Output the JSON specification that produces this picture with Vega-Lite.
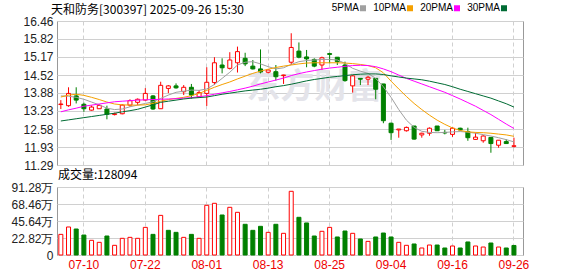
{
  "$schema": "https://vega.github.io/schema/vega-lite/v6.json",
  "background": "white",
  "padding": {"left": 10, "top": 3, "right": 0, "bottom": 0},
  "bounds": "flush",
  "spacing": 22,
  "config": {
    "view": {"stroke": "#999999", "strokeWidth": 1},
    "axis": {"labelFont": "Liberation Sans", "labelFontSize": 12, "labelColor": "#222222", "ticks": false, "domain": false, "gridColor": "#d0d0d0", "title": null, "labelPadding": 4, "labelOverlap": false, "labelFlush": false}
  },
  "datasets": {
    "k": [
      {"date": "2025-07-07", "open": 13.46, "high": 13.62, "low": 13.30, "close": 13.48, "vol": 27.7, "5PMA": 13.77, "10PMA": 13.73, "20PMA": 13.20, "30PMA": 12.87},
      {"date": "2025-07-08", "open": 13.42, "high": 14.08, "low": 13.38, "close": 13.86, "vol": 37.6, "5PMA": 13.76, "10PMA": 13.80, "20PMA": 13.27, "30PMA": 12.91},
      {"date": "2025-07-09", "open": 13.77, "high": 14.08, "low": 13.50, "close": 13.62, "vol": 34.9, "5PMA": 13.72, "10PMA": 13.83, "20PMA": 13.33, "30PMA": 12.95},
      {"date": "2025-07-10", "open": 13.47, "high": 13.53, "low": 13.20, "close": 13.31, "vol": 26.8, "5PMA": 13.65, "10PMA": 13.79, "20PMA": 13.40, "30PMA": 12.99},
      {"date": "2025-07-11", "open": 13.26, "high": 13.43, "low": 13.24, "close": 13.37, "vol": 19.7, "5PMA": 13.55, "10PMA": 13.72, "20PMA": 13.44, "30PMA": 13.03},
      {"date": "2025-07-14", "open": 13.31, "high": 13.47, "low": 13.31, "close": 13.43, "vol": 17.0, "5PMA": 13.45, "10PMA": 13.64, "20PMA": 13.48, "30PMA": 13.07},
      {"date": "2025-07-15", "open": 13.30, "high": 13.42, "low": 12.93, "close": 13.11, "vol": 25.5, "5PMA": 13.33, "10PMA": 13.55, "20PMA": 13.52, "30PMA": 13.11},
      {"date": "2025-07-16", "open": 13.10, "high": 13.17, "low": 13.07, "close": 13.13, "vol": 13.0, "5PMA": 13.28, "10PMA": 13.48, "20PMA": 13.56, "30PMA": 13.15},
      {"date": "2025-07-17", "open": 13.13, "high": 13.47, "low": 13.11, "close": 13.44, "vol": 22.4, "5PMA": 13.30, "10PMA": 13.45, "20PMA": 13.58, "30PMA": 13.20},
      {"date": "2025-07-18", "open": 13.44, "high": 13.65, "low": 13.38, "close": 13.60, "vol": 23.7, "5PMA": 13.38, "10PMA": 13.44, "20PMA": 13.60, "30PMA": 13.24},
      {"date": "2025-07-21", "open": 13.54, "high": 13.68, "low": 13.44, "close": 13.65, "vol": 22.4, "5PMA": 13.44, "10PMA": 13.44, "20PMA": 13.62, "30PMA": 13.29},
      {"date": "2025-07-22", "open": 13.62, "high": 14.05, "low": 13.60, "close": 13.86, "vol": 37.1, "5PMA": 13.50, "10PMA": 13.45, "20PMA": 13.63, "30PMA": 13.37},
      {"date": "2025-07-23", "open": 13.77, "high": 13.80, "low": 13.27, "close": 13.30, "vol": 27.7, "5PMA": 13.56, "10PMA": 13.50, "20PMA": 13.64, "30PMA": 13.45},
      {"date": "2025-07-24", "open": 13.31, "high": 14.28, "low": 13.31, "close": 14.15, "vol": 53.2, "5PMA": 13.68, "10PMA": 13.58, "20PMA": 13.65, "30PMA": 13.54},
      {"date": "2025-07-25", "open": 14.04, "high": 14.16, "low": 13.87, "close": 14.13, "vol": 33.1, "5PMA": 13.80, "10PMA": 13.64, "20PMA": 13.66, "30PMA": 13.58},
      {"date": "2025-07-28", "open": 14.13, "high": 14.22, "low": 14.03, "close": 14.06, "vol": 30.4, "5PMA": 13.90, "10PMA": 13.68, "20PMA": 13.67, "30PMA": 13.62},
      {"date": "2025-07-29", "open": 13.92, "high": 14.16, "low": 13.80, "close": 14.08, "vol": 23.7, "5PMA": 13.94, "10PMA": 13.72, "20PMA": 13.69, "30PMA": 13.66},
      {"date": "2025-07-30", "open": 14.08, "high": 14.20, "low": 13.67, "close": 13.80, "vol": 27.7, "5PMA": 13.98, "10PMA": 13.78, "20PMA": 13.71, "30PMA": 13.69},
      {"date": "2025-07-31", "open": 13.74, "high": 13.98, "low": 13.72, "close": 13.89, "vol": 22.4, "5PMA": 13.97, "10PMA": 13.86, "20PMA": 13.74, "30PMA": 13.71},
      {"date": "2025-08-01", "open": 13.86, "high": 14.80, "low": 13.41, "close": 14.26, "vol": 66.7, "5PMA": 14.02, "10PMA": 13.97, "20PMA": 13.78, "30PMA": 13.73},
      {"date": "2025-08-04", "open": 14.25, "high": 15.16, "low": 14.16, "close": 14.96, "vol": 69.4, "5PMA": 14.18, "10PMA": 14.08, "20PMA": 13.83, "30PMA": 13.78},
      {"date": "2025-08-05", "open": 14.88, "high": 15.12, "low": 14.58, "close": 14.78, "vol": 53.7, "5PMA": 14.40, "10PMA": 14.18, "20PMA": 13.88, "30PMA": 13.83},
      {"date": "2025-08-06", "open": 14.76, "high": 15.34, "low": 14.72, "close": 15.06, "vol": 64.0, "5PMA": 14.62, "10PMA": 14.27, "20PMA": 13.93, "30PMA": 13.87},
      {"date": "2025-08-07", "open": 14.96, "high": 15.54, "low": 14.61, "close": 15.36, "vol": 57.3, "5PMA": 14.88, "10PMA": 14.38, "20PMA": 13.99, "30PMA": 13.91},
      {"date": "2025-08-08", "open": 15.12, "high": 15.32, "low": 14.84, "close": 14.92, "vol": 41.2, "5PMA": 14.98, "10PMA": 14.48, "20PMA": 14.05, "30PMA": 13.95},
      {"date": "2025-08-11", "open": 14.84, "high": 15.06, "low": 14.72, "close": 14.74, "vol": 33.1, "5PMA": 15.00, "10PMA": 14.58, "20PMA": 14.12, "30PMA": 13.98},
      {"date": "2025-08-12", "open": 14.74, "high": 15.44, "low": 14.58, "close": 14.63, "vol": 38.5, "5PMA": 14.92, "10PMA": 14.66, "20PMA": 14.20, "30PMA": 14.01},
      {"date": "2025-08-13", "open": 14.62, "high": 14.72, "low": 14.58, "close": 14.70, "vol": 30.4, "5PMA": 14.82, "10PMA": 14.73, "20PMA": 14.27, "30PMA": 14.05},
      {"date": "2025-08-14", "open": 14.64, "high": 14.88, "low": 14.32, "close": 14.46, "vol": 41.2, "5PMA": 14.74, "10PMA": 14.79, "20PMA": 14.34, "30PMA": 14.10},
      {"date": "2025-08-15", "open": 14.50, "high": 14.53, "low": 14.20, "close": 14.52, "vol": 29.1, "5PMA": 14.78, "10PMA": 14.84, "20PMA": 14.41, "30PMA": 14.14},
      {"date": "2025-08-18", "open": 14.98, "high": 16.02, "low": 14.88, "close": 15.51, "vol": 85.5, "5PMA": 14.90, "10PMA": 14.88, "20PMA": 14.50, "30PMA": 14.19},
      {"date": "2025-08-19", "open": 15.38, "high": 15.69, "low": 15.12, "close": 15.16, "vol": 50.6, "5PMA": 15.00, "10PMA": 14.92, "20PMA": 14.57, "30PMA": 14.25},
      {"date": "2025-08-20", "open": 15.17, "high": 15.42, "low": 14.80, "close": 15.10, "vol": 43.0, "5PMA": 15.04, "10PMA": 14.95, "20PMA": 14.63, "30PMA": 14.31},
      {"date": "2025-08-21", "open": 15.08, "high": 15.12, "low": 14.80, "close": 14.84, "vol": 25.5, "5PMA": 15.06, "10PMA": 14.96, "20PMA": 14.68, "30PMA": 14.36},
      {"date": "2025-08-22", "open": 14.88, "high": 15.18, "low": 14.70, "close": 15.14, "vol": 31.8, "5PMA": 15.08, "10PMA": 14.96, "20PMA": 14.73, "30PMA": 14.40},
      {"date": "2025-08-25", "open": 15.29, "high": 15.32, "low": 14.94, "close": 15.26, "vol": 37.1, "5PMA": 15.08, "10PMA": 14.96, "20PMA": 14.77, "30PMA": 14.44},
      {"date": "2025-08-26", "open": 15.16, "high": 15.16, "low": 14.88, "close": 15.00, "vol": 24.2, "5PMA": 15.06, "10PMA": 14.96, "20PMA": 14.80, "30PMA": 14.47},
      {"date": "2025-08-27", "open": 14.88, "high": 15.00, "low": 14.28, "close": 14.32, "vol": 32.2, "5PMA": 14.94, "10PMA": 14.95, "20PMA": 14.83, "30PMA": 14.50},
      {"date": "2025-08-28", "open": 14.13, "high": 14.52, "low": 13.89, "close": 14.49, "vol": 29.1, "5PMA": 14.76, "10PMA": 14.93, "20PMA": 14.86, "30PMA": 14.53},
      {"date": "2025-08-29", "open": 14.40, "high": 14.40, "low": 14.16, "close": 14.37, "vol": 21.5, "5PMA": 14.66, "10PMA": 14.90, "20PMA": 14.87, "30PMA": 14.55},
      {"date": "2025-09-01", "open": 14.37, "high": 14.49, "low": 14.16, "close": 14.44, "vol": 18.3, "5PMA": 14.58, "10PMA": 14.86, "20PMA": 14.86, "30PMA": 14.56},
      {"date": "2025-09-02", "open": 14.40, "high": 14.40, "low": 13.65, "close": 14.01, "vol": 24.2, "5PMA": 14.40, "10PMA": 14.78, "20PMA": 14.82, "30PMA": 14.56},
      {"date": "2025-09-03", "open": 14.20, "high": 14.20, "low": 12.79, "close": 12.88, "vol": 29.5, "5PMA": 14.10, "10PMA": 14.60, "20PMA": 14.74, "30PMA": 14.54},
      {"date": "2025-09-04", "open": 12.79, "high": 12.81, "low": 12.19, "close": 12.45, "vol": 24.2, "5PMA": 13.72, "10PMA": 14.30, "20PMA": 14.64, "30PMA": 14.49},
      {"date": "2025-09-05", "open": 12.55, "high": 12.58, "low": 12.27, "close": 12.58, "vol": 17.0, "5PMA": 13.28, "10PMA": 14.02, "20PMA": 14.52, "30PMA": 14.45},
      {"date": "2025-09-08", "open": 12.52, "high": 12.67, "low": 12.49, "close": 12.64, "vol": 13.0, "5PMA": 12.90, "10PMA": 13.75, "20PMA": 14.40, "30PMA": 14.41},
      {"date": "2025-09-09", "open": 12.69, "high": 12.69, "low": 12.20, "close": 12.22, "vol": 14.8, "5PMA": 12.64, "10PMA": 13.50, "20PMA": 14.30, "30PMA": 14.38},
      {"date": "2025-09-10", "open": 12.37, "high": 12.45, "low": 12.27, "close": 12.43, "vol": 9.4, "5PMA": 12.50, "10PMA": 13.28, "20PMA": 14.20, "30PMA": 14.35},
      {"date": "2025-09-11", "open": 12.43, "high": 12.64, "low": 12.34, "close": 12.61, "vol": 13.4, "5PMA": 12.46, "10PMA": 13.08, "20PMA": 14.10, "30PMA": 14.30},
      {"date": "2025-09-12", "open": 12.69, "high": 12.69, "low": 12.52, "close": 12.52, "vol": 13.4, "5PMA": 12.45, "10PMA": 12.90, "20PMA": 14.00, "30PMA": 14.24},
      {"date": "2025-09-15", "open": 12.46, "high": 12.55, "low": 12.39, "close": 12.44, "vol": 9.4, "5PMA": 12.46, "10PMA": 12.75, "20PMA": 13.90, "30PMA": 14.18},
      {"date": "2025-09-16", "open": 12.39, "high": 12.64, "low": 12.30, "close": 12.61, "vol": 12.1, "5PMA": 12.48, "10PMA": 12.62, "20PMA": 13.78, "30PMA": 14.10},
      {"date": "2025-09-17", "open": 12.61, "high": 12.63, "low": 12.52, "close": 12.55, "vol": 9.4, "5PMA": 12.49, "10PMA": 12.53, "20PMA": 13.66, "30PMA": 14.01},
      {"date": "2025-09-18", "open": 12.49, "high": 12.63, "low": 12.16, "close": 12.27, "vol": 17.5, "5PMA": 12.47, "10PMA": 12.48, "20PMA": 13.53, "30PMA": 13.93},
      {"date": "2025-09-19", "open": 12.21, "high": 12.45, "low": 12.19, "close": 12.29, "vol": 12.1, "5PMA": 12.43, "10PMA": 12.46, "20PMA": 13.40, "30PMA": 13.85},
      {"date": "2025-09-22", "open": 12.16, "high": 12.36, "low": 12.09, "close": 12.33, "vol": 10.7, "5PMA": 12.38, "10PMA": 12.45, "20PMA": 13.25, "30PMA": 13.77},
      {"date": "2025-09-23", "open": 12.28, "high": 12.28, "low": 11.73, "close": 12.06, "vol": 16.1, "5PMA": 12.33, "10PMA": 12.43, "20PMA": 13.10, "30PMA": 13.69},
      {"date": "2025-09-24", "open": 12.00, "high": 12.18, "low": 11.91, "close": 12.18, "vol": 10.7, "5PMA": 12.27, "10PMA": 12.40, "20PMA": 12.93, "30PMA": 13.59},
      {"date": "2025-09-25", "open": 12.13, "high": 12.21, "low": 12.06, "close": 12.06, "vol": 9.4, "5PMA": 12.20, "10PMA": 12.37, "20PMA": 12.76, "30PMA": 13.49},
      {"date": "2025-09-26", "open": 11.96, "high": 12.27, "low": 11.92, "close": 11.98, "vol": 12.81, "5PMA": 12.12, "10PMA": 12.32, "20PMA": 12.60, "30PMA": 13.37}
    ]
  },
  "vconcat": [
    {
      "width": 466,
      "height": 144,
      "title": {"text": "天和防务[300397] 2025-09-26 15:30", "anchor": "start", "frame": "group", "dx": -6, "offset": -2, "fontSize": 12, "fontWeight": "normal", "font": "Noto Sans CJK SC", "color": "#000000"},
      "encoding": {
        "x": {
          "field": "date", "type": "ordinal",
          "scale": {"paddingInner": 0, "paddingOuter": 0.34, "align": 0},
          "axis": {"values": ["2025-07-10", "2025-07-22", "2025-08-01", "2025-08-13", "2025-08-25", "2025-09-04", "2025-09-16", "2025-09-26"], "labels": false, "grid": true, "gridDash": [4, 3], "bandPosition": 0.5}
        }
      },
      "layer": [
        {
          "data": {"values": [{"date": "2025-08-21", "p": 14.07, "t": "东方财富"}]},
          "mark": {"type": "text", "font": "Noto Sans CJK SC", "fontSize": 34, "fontWeight": "bold", "color": "#e4e4ea"},
          "encoding": {
            "y": {"field": "p", "type": "quantitative", "scale": {"domain": [11.29, 16.46], "nice": false, "zero": false},
                  "axis": {"values": [11.29, 11.93, 12.58, 13.23, 13.88, 14.52, 15.17, 15.82, 16.46], "format": ".2f", "grid": true, "labelOverlap": false, "labelFlush": false}},
            "text": {"field": "t"}
          }
        },
        {
          "data": {"name": "k"},
          "mark": {"type": "rule", "strokeWidth": 1},
          "encoding": {
            "y": {"field": "low", "type": "quantitative",
                  "axis": {"values": [11.29, 11.93, 12.58, 13.23, 13.88, 14.52, 15.17, 15.82, 16.46], "format": ".2f", "grid": true, "labelOverlap": false, "labelFlush": false}},
            "y2": {"field": "high"},
            "color": {"condition": {"test": "datum.close >= datum.open", "value": "#ff0000"}, "value": "#008000"}
          }
        },
        {
          "data": {"name": "k"},
          "mark": {"type": "bar", "width": 4, "strokeWidth": 1},
          "encoding": {
            "y": {"field": "open", "type": "quantitative",
                  "axis": {"values": [11.29, 11.93, 12.58, 13.23, 13.88, 14.52, 15.17, 15.82, 16.46], "format": ".2f", "grid": true, "labelOverlap": false, "labelFlush": false}},
            "y2": {"field": "close"},
            "fill": {"condition": {"test": "datum.close >= datum.open", "value": "#ffffff"}, "value": "#008000"},
            "stroke": {"condition": {"test": "datum.close >= datum.open", "value": "#ff0000"}, "value": "#008000"}
          }
        },
        {
          "data": {"name": "k"},
          "transform": [{"fold": ["5PMA", "10PMA", "20PMA", "30PMA"], "as": ["ma", "val"]}],
          "mark": {"type": "line", "strokeWidth": 1},
          "encoding": {
            "y": {"field": "val", "type": "quantitative",
                  "axis": {"values": [11.29, 11.93, 12.58, 13.23, 13.88, 14.52, 15.17, 15.82, 16.46], "format": ".2f", "grid": true, "labelOverlap": false, "labelFlush": false}},
            "color": {
              "field": "ma", "type": "nominal",
              "scale": {"domain": ["5PMA", "10PMA", "20PMA", "30PMA"], "range": ["#a0a0a0", "#f5a000", "#ff00ff", "#006b33"]},
              "legend": {"orient": "none", "legendX": 301, "legendY": -18, "direction": "horizontal", "columns": 4, "title": null, "symbolType": "square", "symbolSize": 9, "symbolStrokeWidth": 3, "labelFont": "Liberation Sans", "labelFontSize": 10, "labelColor": "#000000", "labelAlign": "right", "labelOffset": -9, "columnPadding": 2}
            }
          }
        }
      ]
    },
    {
      "width": 466,
      "height": 68,
      "title": {"text": "成交量:128094", "anchor": "start", "frame": "group", "dx": 1, "offset": -1, "fontSize": 12, "fontWeight": "normal", "font": "Noto Sans CJK SC", "color": "#000000"},
      "data": {"name": "k"},
      "transform": [{"window": [{"op": "lag", "field": "close", "as": "prev"}], "sort": [{"field": "date"}]}],
      "mark": {"type": "bar", "width": 4, "strokeWidth": 1},
      "encoding": {
        "x": {
          "field": "date", "type": "ordinal",
          "scale": {"paddingInner": 0, "paddingOuter": 0.34, "align": 0},
          "axis": {"values": ["2025-07-10", "2025-07-22", "2025-08-01", "2025-08-13", "2025-08-25", "2025-09-04", "2025-09-16", "2025-09-26"], "labelExpr": "substring(datum.label, 5, 10)", "labelAngle": 0, "labelColor": "#ee0000", "grid": true, "gridDash": [4, 3], "bandPosition": 0.5, "labelPadding": 4}
        },
        "y": {
          "field": "vol", "type": "quantitative",
          "scale": {"domain": [0, 91.28], "nice": false},
          "axis": {"values": [0, 22.82, 45.64, 68.46, 91.28], "labelExpr": "datum.value == 0 ? '0' : format(datum.value, '.2f') + '万'", "grid": true, "labelOverlap": false, "labelFlush": false}
        },
        "fill": {"condition": {"test": "datum.prev == null ? datum.close >= datum.open : datum.close >= datum.prev", "value": "#ffffff"}, "value": "#008000"},
        "stroke": {"condition": {"test": "datum.prev == null ? datum.close >= datum.open : datum.close >= datum.prev", "value": "#ff0000"}, "value": "#008000"}
      }
    }
  ]
}
